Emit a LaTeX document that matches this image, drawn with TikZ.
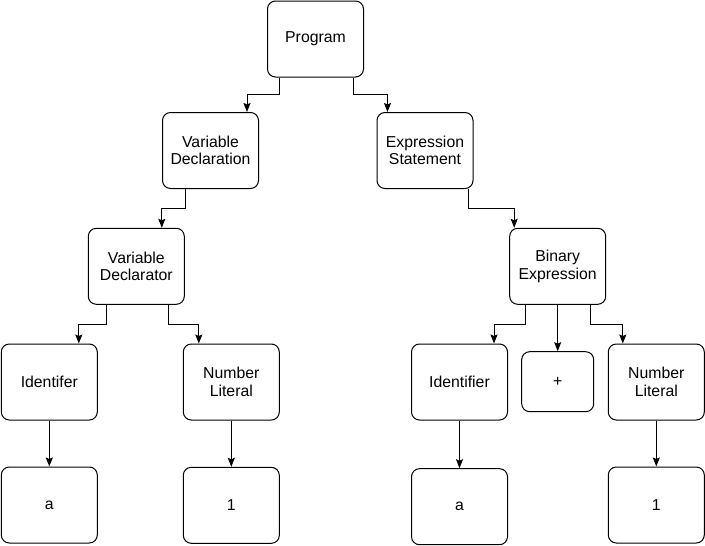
\documentclass[tikz,border=0pt]{standalone}
\usepackage{fontspec}
\setmainfont{Liberation Sans}
\usetikzlibrary{arrows.meta}

\begin{document}
\begin{tikzpicture}[x=1pt, y=-1pt,
                    line width=1pt,
                    font=\fontsize{15.8}{17.7}\selectfont,
                    ]
    \tikzstyle{block}=[draw, rounded corners=8pt, align=center, minimum width=96pt, minimum height=76pt, inner sep=2pt]
    \tikzstyle{small}=[block, minimum width=72pt, minimum height=60pt];
    \tikzstyle{link}=[-{Stealth[length=9pt,width=7pt,inset=1.5pt]}, rounded corners=0pt];

    \useasboundingbox (0,0) rectangle (705,546);

    \node[block] (prog)  at (315.5,39)  {Program};
    \node[block] (vdecl) at (210.5,150.5) {Variable\\Declaration};
    \node[block] (estmt) at (425,150.5) {Expression\\Statement};
    \node[block] (vdtor) at (136.3,266.3) {Variable\\Declarator};
    \node[block] (bexpr) at (557.7,266.3) {Binary\\Expression};
    \node[block] (idl)   at (49.3,382)  {Identifer};
    \node[block] (numl)  at (231.3,382) {Number\\Literal};
    \node[block] (al)    at (49.3,505)  {a};
    \node[block] (onel)  at (231.3,505.3) {1};
    \node[block] (idr)   at (459.5,382) {Identifier};
    \node[small] (plus)  at (557.7,381.7) {+};
    \node[block] (numr)  at (656.3,382) {Number\\Literal};
    \node[block] (ar)    at (459.5,506.7) {a};
    \node[block] (oner)  at (656.3,505) {1};

    \draw[link] ([xshift=12pt]prog.south west) -- ++(0,17) -| ([xshift=-12pt]vdecl.north east);
    \draw[link] ([xshift=-11pt]prog.south east) -- ++(0,17) -| ([xshift=11pt]estmt.north west);
    \draw[link] ([xshift=23.5pt]vdecl.south west) -- ++(0,19) -| ([xshift=-23pt]vdtor.north east);
    \draw[link] ([xshift=-5pt]estmt.south east) -- ++(0,19) -| ([xshift=5pt]bexpr.north west);
    \draw[link] ([xshift=19pt]vdtor.south west) -- ++(0,20) -| ([xshift=-19pt]idl.north east);
    \draw[link] ([xshift=-16pt]vdtor.south east) -- ++(0,20) -| ([xshift=16pt]numl.north west);
    \draw[link] ([xshift=16pt]bexpr.south west) -- ++(0,20) -| ([xshift=-14pt]idr.north east);
    \draw[link] (bexpr.south) -- (plus.north);
    \draw[link] ([xshift=-16pt]bexpr.south east) -- ++(0,20) -| ([xshift=15pt]numr.north west);
    \draw[link] (idl) -- (al);
    \draw[link] (numl) -- (onel);
    \draw[link] (idr) -- (ar);
    \draw[link] (numr) -- (oner);
\end{tikzpicture}
\end{document}
